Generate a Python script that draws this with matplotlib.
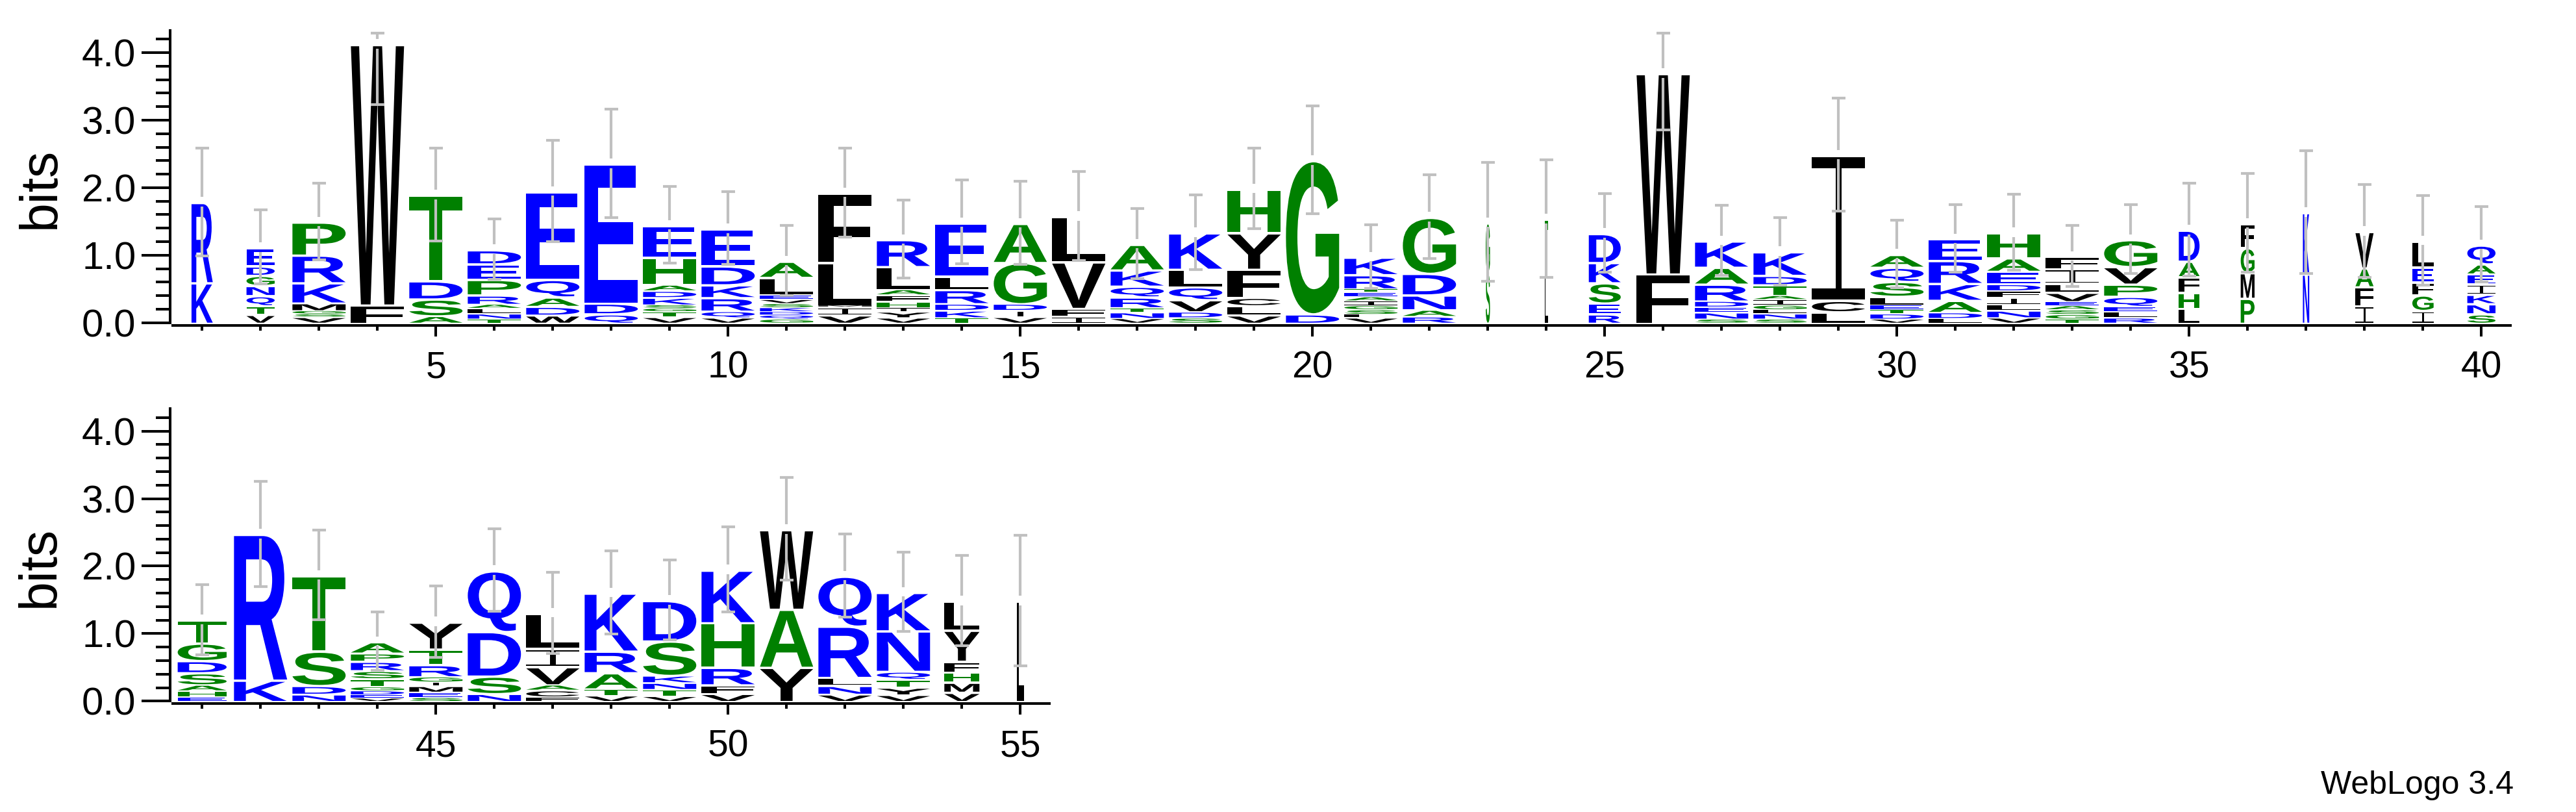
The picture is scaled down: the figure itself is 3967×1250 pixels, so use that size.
import matplotlib
matplotlib.use("Agg")
import matplotlib.pyplot as plt
from matplotlib.textpath import TextPath
from matplotlib.patches import PathPatch
from matplotlib.path import Path
from matplotlib.font_manager import FontProperties
from matplotlib.transforms import Affine2D
from matplotlib.ticker import MultipleLocator, FormatStrFormatter

plt.rcParams['font.family'] = ['Liberation Sans', 'DejaVu Sans']

# -----------------------------
# Logo data (letters bottom -> top, heights in bits)
# -----------------------------

positions = list(range(1, 56))

stack_letters = [
    "KR", "VTQNGDE", "VSGMKRP", "FW", "ASDT",
    "TNLARPED", "WDAQE", "QDE", "VTGSKDAHE", "VQRKDE",
    "GQDKSVELA", "VIMLF", "VYIHFALR", "TKDRLE", "VIDGA",
    "IFVL", "VNTRQKA", "SDVQLK", "VLCFYH", "DG",
    "VLSGIAETRK", "RANDG", "SG", "LT", "RESKD",
    "FW", "SNEDRAK", "SNLGIATDK", "LCI", "VDTELSQA",
    "LDAKRE", "VNLIFDEAH", "TGSAEVLIF", "RLEQPVG", "LHFAD",
    "PMGF", "NK", "IFAV", "IGFEL", "SNKIEAQ",
    "EHASDGT", "KR", "NDST", "VEDGTSRPA", "SEMIGRTY",
    "NSDQ", "FCAVIL", "VTARK", "VTNKSD", "VFRHK",
    "YAW", "VNLRQ", "VYTQNK", "VMHFYL", "L",
]

stack_heights = [
    [0.60, 1.19], [0.13, 0.13, 0.15, 0.15, 0.15, 0.14, 0.27],
    [0.09, 0.045, 0.05, 0.115, 0.30, 0.41, 0.49], [0.27, 3.86],
    [0.11, 0.25, 0.27, 1.27],
    [0.06, 0.08, 0.08, 0.06, 0.14, 0.23, 0.23, 0.21],
    [0.12, 0.13, 0.14, 0.26, 1.30], [0.14, 0.16, 2.06],
    [0.09, 0.08, 0.05, 0.05, 0.11, 0.10, 0.09, 0.41, 0.47],
    [0.08, 0.10, 0.20, 0.19, 0.28, 0.55],
    [0.06, 0.06, 0.05, 0.06, 0.06, 0.06, 0.07, 0.26, 0.24],
    [0.12, 0.12, 0.02, 0.64, 1.03],
    [0.08, 0.09, 0.06, 0.09, 0.10, 0.08, 0.34, 0.40],
    [0.08, 0.11, 0.10, 0.21, 0.20, 0.79], [0.09, 0.10, 0.10, 0.61, 0.58],
    [0.10, 0.12, 0.69, 0.67], [0.07, 0.09, 0.07, 0.16, 0.16, 0.24, 0.38],
    [0.08, 0.09, 0.18, 0.19, 0.26, 0.54], [0.12, 0.14, 0.12, 0.42, 0.54, 0.65],
    [0.14, 2.27],
    [0.08, 0.05, 0.07, 0.06, 0.07, 0.06, 0.07, 0.05, 0.21, 0.26],
    [0.10, 0.10, 0.22, 0.32, 0.83], [0.75, 0.74], [0.70, 0.84],
    [0.14, 0.16, 0.30, 0.30, 0.43],
    [0.73, 2.97], [0.06, 0.10, 0.08, 0.09, 0.25, 0.25, 0.39],
    [0.06, 0.08, 0.06, 0.07, 0.08, 0.06, 0.16, 0.14, 0.35],
    [0.17, 0.17, 2.15], [0.06, 0.08, 0.06, 0.07, 0.13, 0.22, 0.21, 0.19],
    [0.07, 0.09, 0.18, 0.25, 0.34, 0.32],
    [0.08, 0.11, 0.09, 0.10, 0.10, 0.10, 0.19, 0.20, 0.37],
    [0.06, 0.07, 0.07, 0.06, 0.06, 0.14, 0.13, 0.22, 0.18],
    [0.08, 0.09, 0.08, 0.15, 0.18, 0.26, 0.40], [0.22, 0.24, 0.23, 0.23, 0.46],
    [0.37, 0.38, 0.37, 0.36], [0.73, 0.91], [0.26, 0.28, 0.28, 0.54],
    [0.19, 0.23, 0.19, 0.22, 0.39], [0.14, 0.15, 0.14, 0.15, 0.15, 0.15, 0.28],
    [0.07, 0.09, 0.09, 0.18, 0.18, 0.26, 0.34], [0.32, 2.16],
    [0.11, 0.13, 0.51, 1.12],
    [0.05, 0.05, 0.06, 0.06, 0.12, 0.12, 0.14, 0.12, 0.17],
    [0.06, 0.08, 0.09, 0.06, 0.08, 0.18, 0.23, 0.40],
    [0.12, 0.26, 0.66, 0.90], [0.07, 0.10, 0.08, 0.27, 0.27, 0.52],
    [0.09, 0.10, 0.24, 0.32, 0.86], [0.08, 0.10, 0.10, 0.11, 0.51, 0.60],
    [0.12, 0.13, 0.26, 0.66, 0.78],
    [0.51, 0.86, 1.18], [0.11, 0.13, 0.12, 0.76, 0.74],
    [0.10, 0.11, 0.12, 0.12, 0.60, 0.57], [0.14, 0.15, 0.15, 0.16, 0.46, 0.43],
    [1.49],
]

# error bar half-length (bits)
error_bars = [
    0.80, 0.55, 0.57, 0.90, 0.69, 0.45, 0.75, 0.80, 0.57, 0.54,
    0.52, 0.66, 0.58, 0.62, 0.62, 0.66, 0.52, 0.55, 0.60, 0.80,
    0.47, 0.62, 0.88, 0.87, 0.58, 0.84, 0.52, 0.50, 0.84, 0.50,
    0.50, 0.56, 0.45, 0.51, 0.69, 0.73, 0.91, 0.69, 0.66, 0.56,
    0.52, 0.78, 0.66, 0.43, 0.53, 0.61, 0.60, 0.62, 0.59, 0.63,
    0.76, 0.62, 0.59, 0.67, 0.97,
]

# fraction of non-gap symbols -> stack width
column_width = [
    0.40, 0.53, 1, 1, 1, 1, 1, 1, 1, 1,
    1, 1, 1, 1, 1, 1, 1, 1, 1, 1,
    1, 1, 0.08, 0.06, 0.60, 1, 1, 1, 1, 1,
    1, 1, 1, 1, 0.39, 0.26, 0.12, 0.34, 0.40, 0.53,
    0.92, 1, 1, 1, 1, 1, 1, 1, 1, 1,
    1, 1, 1, 0.66, 0.14,
]

# hydrophobicity colour scheme
letter_colors = {}
for aa in "RKDENQ":
    letter_colors[aa] = "#0000FF"
for aa in "SGHTAP":
    letter_colors[aa] = "#008000"
for aa in "YVMCLFIW":
    letter_colors[aa] = "#000000"

rows = [(1, 40), (41, 55)]
y_top = 4.33

# -----------------------------
# Drawing helpers
# -----------------------------

sans_bold = FontProperties(family="Liberation Sans", weight="bold")

# the logo font draws I with full-width bars and a thin stem
i_outline = [(0, 0), (1, 0), (1, 0.08), (0.555, 0.08), (0.555, 0.92),
             (1, 0.92), (1, 1), (0, 1), (0, 0.92), (0.445, 0.92),
             (0.445, 0.08), (0, 0.08), (0, 0)]
glyphs = {"I": Path(i_outline, closed=True)}


def draw_letter(ax, ch, x, y0, w, h, color):
    if ch not in glyphs:
        glyphs[ch] = TextPath((0, 0), ch, size=1, prop=sans_bold)
    path = glyphs[ch]
    bb = path.get_extents()
    t = (Affine2D().translate(-bb.x0, -bb.y0)
         .scale(w / bb.width, h / bb.height)
         .translate(x - w / 2, y0))
    ax.add_patch(PathPatch(t.transform_path(path), facecolor=color,
                           edgecolor="none", lw=0, zorder=2))


fig = plt.figure(figsize=(39.67, 12.5), dpi=100)
ax_top = fig.add_axes([0.06713, 0.60264, 0.90749, 0.35992])
ax_bot = fig.add_axes([0.06713, 0.13656, 0.34031, 0.35992])

for ax, (first, last) in zip([ax_top, ax_bot], rows):
    for i in range(first - 1, last):
        x = positions[i]
        w = 0.91 * column_width[i]
        y = 0.0
        for ch, h in zip(stack_letters[i], stack_heights[i]):
            pad = min(0.035, 0.25 * h)
            draw_letter(ax, ch, x, y, w, h - pad, letter_colors[ch])
            y += h

        # error bar, split around the stack top
        err = error_bars[i]
        hi = min(y + err, y_top - 0.04)
        lo = y - err
        gap = 0.07
        ax.vlines(x, lo, y - gap, color="#C0C0C0", lw=3.0, zorder=3)
        ax.vlines(x, y + gap, hi, color="#C0C0C0", lw=3.0, zorder=3)
        ax.hlines([lo, hi], x - 0.115, x + 0.115, color="#C0C0C0", lw=3.0, zorder=3)

    ax.set_xlim(first - 0.5, last + 0.5)
    ax.set_ylim(0, y_top)

    for side in ["top", "right"]:
        ax.spines[side].set_visible(False)
    for side in ["left", "bottom"]:
        ax.spines[side].set_linewidth(2.9)
        ax.spines[side].set_position(("outward", 3))

    ax.xaxis.set_major_locator(MultipleLocator(5))
    ax.xaxis.set_minor_locator(MultipleLocator(1))
    ax.yaxis.set_major_locator(MultipleLocator(1))
    ax.yaxis.set_minor_locator(MultipleLocator(0.2))
    ax.yaxis.set_major_formatter(FormatStrFormatter("%.1f"))

    ax.tick_params(axis="x", which="major", length=12, width=2.9, labelsize=41, pad=16)
    ax.tick_params(axis="x", which="minor", length=6, width=2.9)
    ax.tick_params(axis="y", which="major", length=32, width=2.9, labelsize=43, pad=6)
    ax.tick_params(axis="y", which="minor", length=16, width=2.9)

    ax.set_ylabel("bits", fontsize=58)

ax_top.yaxis.set_label_coords(-0.046, 0.46)
ax_bot.yaxis.set_label_coords(-0.123, 0.46)

fig.text(0.9758, 0.0224, "WebLogo 3.4", fontsize=36, ha="right", va="baseline")

fig.savefig("out.png", dpi=100)
